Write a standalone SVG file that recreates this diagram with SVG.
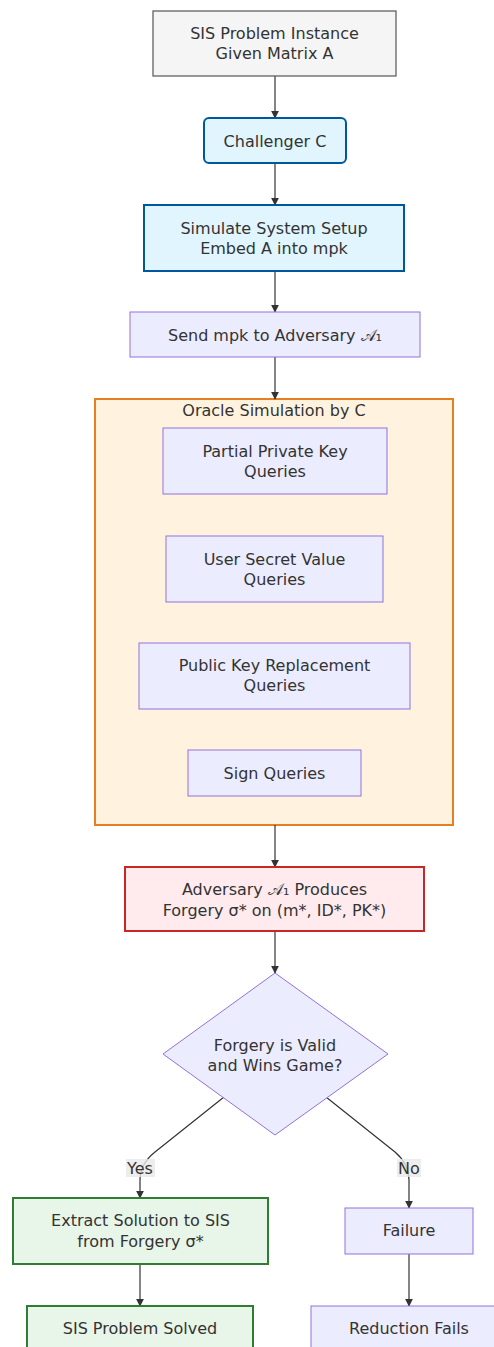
<svg xmlns="http://www.w3.org/2000/svg" width="494" height="1347" viewBox="0 0 494 1347">
<defs>
<marker id="arr" viewBox="0 0 10 10" refX="9" refY="5" markerWidth="8" markerHeight="8" markerUnits="userSpaceOnUse" orient="auto">
<path d="M0,0 L10,5 L0,10 z" fill="#333"/>
</marker>
<style>
text{font-family:"DejaVu Sans","Liberation Sans",sans-serif;font-size:16px;fill:#333;text-anchor:middle;dominant-baseline:central}
.edge{fill:none;stroke:#333;stroke-width:1.2;marker-end:url(#arr)}
.def{fill:#ECECFF;stroke:#9370DB;stroke-width:1}
.grey{fill:#f5f5f5;stroke:#555;stroke-width:1.2}
.blue{fill:#e1f5fe;stroke:#01579b;stroke-width:2}
.red{fill:#ffebee;stroke:#c62828;stroke-width:2}
.green{fill:#e8f5e9;stroke:#2e7d32;stroke-width:2}
.cluster{fill:#fff3e0;stroke:#e67e22;stroke-width:2}
.lbl{fill:#e8e8e8;opacity:0.8}
</style>
</defs>
<rect width="494" height="1347" fill="#ffffff"/>
<g id="cluster-oracle">
<rect class="cluster" x="95" y="399" width="358" height="426"/>
<text x="274" y="410">Oracle Simulation by C</text>
</g>
<g id="connectors">
<line class="edge" x1="275" y1="76" x2="275" y2="118"/>
<line class="edge" x1="275" y1="163" x2="275" y2="205"/>
<line class="edge" x1="275" y1="271" x2="275" y2="312"/>
<line class="edge" x1="275" y1="357" x2="275" y2="399"/>
<line class="edge" x1="275" y1="825" x2="275" y2="867"/>
<line class="edge" x1="275" y1="931" x2="275" y2="973"/>
<path class="edge" d="M224,1097 L155,1152 Q140,1164 140,1180 L140,1198"/>
<path class="edge" d="M326,1097 L395,1152 Q409,1164 409,1180 L409,1208"/>
<line class="edge" x1="140" y1="1264" x2="140" y2="1306"/>
<line class="edge" x1="409" y1="1254" x2="409" y2="1306"/>
<rect class="lbl" x="126" y="1159" width="29" height="18"/>
<text x="140" y="1168">Yes</text>
<rect class="lbl" x="397" y="1159" width="24" height="18"/>
<text x="409" y="1168">No</text>
</g>
<g id="sis-instance">
<rect class="grey" x="153" y="11" width="243" height="65"/>
<text x="274.5" y="33">SIS Problem Instance</text>
<text x="274.5" y="53">Given Matrix A</text>
</g>
<g id="challenger">
<rect class="blue" x="204" y="118" width="142" height="45" rx="5"/>
<text x="275" y="141">Challenger C</text>
</g>
<g id="setup">
<rect class="blue" x="144" y="205" width="260" height="66"/>
<text x="274" y="228">Simulate System Setup</text>
<text x="274" y="248">Embed A into mpk</text>
</g>
<g id="send-mpk">
<rect class="def" x="130" y="312" width="290" height="45"/>
<text x="275" y="335">Send mpk to Adversary 𝒜₁</text>
</g>
<g id="ppk">
<rect class="def" x="163" y="428" width="224" height="66"/>
<text x="275" y="451">Partial Private Key</text>
<text x="275" y="471">Queries</text>
</g>
<g id="usv">
<rect class="def" x="166" y="536" width="217" height="66"/>
<text x="274.5" y="559">User Secret Value</text>
<text x="274.5" y="579">Queries</text>
</g>
<g id="pkr">
<rect class="def" x="139" y="643" width="271" height="66"/>
<text x="274.5" y="665">Public Key Replacement</text>
<text x="274.5" y="685">Queries</text>
</g>
<g id="sign">
<rect class="def" x="188" y="750" width="173" height="46"/>
<text x="274.5" y="773">Sign Queries</text>
</g>
<g id="forgery">
<rect class="red" x="125" y="867" width="299" height="64"/>
<text x="274.5" y="889">Adversary 𝒜₁ Produces</text>
<text x="274.5" y="910">Forgery σ* on (m*, ID*, PK*)</text>
</g>
<g id="decision">
<polygon class="def" points="275,973 388,1054 275,1135 163,1054"/>
<text x="275" y="1045">Forgery is Valid</text>
<text x="275" y="1065">and Wins Game?</text>
</g>
<g id="extract">
<rect class="green" x="13" y="1198" width="255" height="66"/>
<text x="140.5" y="1220">Extract Solution to SIS</text>
<text x="140.5" y="1241">from Forgery σ*</text>
</g>
<g id="failure">
<rect class="def" x="345" y="1208" width="128" height="46"/>
<text x="409" y="1230">Failure</text>
</g>
<g id="solved">
<rect class="green" x="27" y="1306" width="226" height="46"/>
<text x="140" y="1328">SIS Problem Solved</text>
</g>
<g id="reduction-fails">
<rect class="def" x="311" y="1306" width="196" height="46"/>
<text x="409" y="1328">Reduction Fails</text>
</g>
</svg>
